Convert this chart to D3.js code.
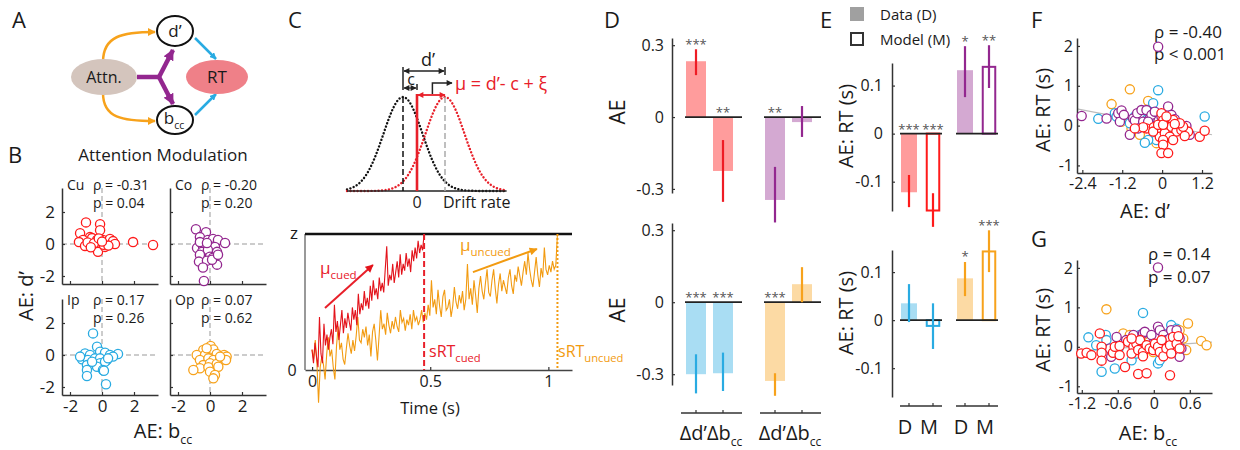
<!DOCTYPE html>
<html><head><meta charset="utf-8">
<script src="https://cdn.jsdelivr.net/npm/d3@7"></script>
<style>
body{margin:0;background:#fff;}
svg text{font-family:"Open Sans",sans-serif;fill:#1a1a1a;}
</style></head><body>
<svg id="fig" width="1240" height="450"></svg>
<script>
// ================= DATA =================
// Panel B : AE: b_cc (x) vs AE: d' (y)
const bCu = [[-1.0,1.35],[-0.12,1.23],[-1.37,0.67],[-0.12,0.86],[-0.75,0.43],[-1.19,0.25],[-1.44,0.12],[-1.06,-0.12],[-0.62,0.37],[-0.31,0.25],[-0.12,0.06],[-0.44,-0.12],[-0.25,-0.49],[0.06,0.25],[0.31,0.06],[0.5,0.31],[0.69,0.18],[0.81,0.0],[0.19,-0.18],[1.94,0.12],[3.19,-0.06],[-0.9,0.1],[-0.5,0.05],[0.1,-0.05],[-0.2,0.35],[0.4,-0.1],[-0.7,-0.2],[0.0,0.15]];
const bCo = [[-0.88,0.92],[-0.25,0.74],[-0.63,0.43],[-0.13,0.25],[0.19,0.31],[0.5,0.25],[0.94,0.06],[-0.81,-0.25],[-0.44,-0.12],[0,-0.12],[0.31,-0.18],[-0.5,-0.49],[-0.13,-0.37],[0.44,-0.49],[-0.63,-0.67],[0,-0.8],[0.19,-0.86],[-0.69,-1.1],[-0.19,-1.04],[0.44,-1.29],[-0.44,-1.47],[0.13,-0.98],[-0.38,-2.31],[0.5,-0.67],[-0.63,0.12],[-0.19,0.06]];
const bIp = [[-0.56,1.35],[-0.31,0.52],[-1.06,0.1],[-0.75,0.0],[-0.12,0.21],[0.19,0.14],[0.5,0.0],[1.0,0.06],[-1.25,-0.27],[-0.88,-0.31],[-0.44,-0.21],[-0.12,-0.21],[0.31,-0.31],[0.69,-0.1],[-0.94,-0.63],[-0.56,-0.56],[-0.12,-0.52],[0.19,-0.42],[0.38,-0.21],[-0.31,-0.73],[0.06,-0.94],[-0.94,-0.94],[-0.94,-1.31],[0.12,-0.98],[0.25,-1.83],[-1.37,-0.1],[-0.62,-0.42]];
const bOp = [[0.04,0.56],[-0.42,0.31],[0.21,0.35],[-0.83,0.0],[-0.31,0.0],[0.42,0.06],[0.88,0.0],[1.04,-0.1],[-0.63,-0.31],[-0.1,-0.21],[0.21,-0.31],[0.63,-0.35],[1.0,-0.31],[-0.42,-0.63],[0.0,-0.52],[0.42,-0.56],[-0.63,-0.83],[-0.1,-0.77],[0.52,-0.73],[-1.04,-0.94],[0.0,-1.04],[0.31,-1.25],[0.21,-1.46],[-0.21,0.42],[0.63,-0.1]];
const bNames = ["Cu","Co","Ip","Op"];
const bRho = ["-0.31","-0.20","0.17","0.07"];
const bP = ["0.04","0.20","0.26","0.62"];
const bTicks = [-2,0,2];

// Panel C : drift-diffusion schematic
const dPrime = 1.5, crit = 0.5, noiseSD = 0.7;
const cuedTrace = [0.15,0.05,0.20,0.10,0.02,0.39,0.12,0.05,0.34,0.18,
  0.26,0.15,0.24,0.30,0.19,0.48,0.28,0.36,0.22,0.33,
  0.44,0.27,0.38,0.31,0.42,0.35,0.29,0.46,0.37,0.44,
  0.33,0.56,0.41,0.49,0.44,0.58,0.47,0.53,0.45,0.62,
  0.51,0.66,0.55,0.60,0.52,0.68,0.58,0.64,0.57,0.74,
  0.91,0.62,0.70,0.66,0.78,0.64,0.72,0.80,0.68,0.85,
  0.70,0.78,0.73,0.86,0.76,0.82,0.72,0.88,0.80,0.90,
  0.82,0.95,0.86,0.92,0.88,1.0];
const uncuedTrace = [0.15,0.08,0.22,0.05,-0.24,0.02,0.10,0.04,-0.07,0.12,
  0.24,0.10,0.15,0.02,-0.07,0.18,0.32,0.15,0.20,0.08,
  0.04,0.16,0.27,0.18,0.12,0.22,0.14,0.25,0.39,0.22,
  0.20,0.30,0.24,0.32,0.18,0.26,0.10,0.28,0.34,0.22,
  0.07,0.25,0.44,0.30,0.34,0.26,0.42,0.33,0.27,0.36,
  0.30,0.39,0.32,0.28,0.44,0.35,0.38,0.29,0.37,0.33,
  0.41,0.30,0.44,0.36,0.39,0.33,0.37,0.44,0.35,0.42,
  0.37,0.48,0.40,0.66,0.46,0.52,0.41,0.59,0.47,0.39,
  0.54,0.59,0.44,0.46,0.52,0.39,0.47,0.61,0.50,0.45,
  0.55,0.49,0.58,0.44,0.52,0.78,0.52,0.60,0.48,0.66,
  0.55,0.42,0.60,0.69,0.58,0.52,0.64,0.74,0.57,0.54,
  0.66,0.74,0.60,0.49,0.63,0.71,0.58,0.66,0.61,0.56,
  0.68,0.74,0.62,0.56,0.70,0.65,0.76,0.69,0.62,0.72,
  0.80,0.70,0.86,0.74,0.66,0.61,0.72,0.83,0.70,0.61,
  0.75,0.68,0.90,0.74,0.70,0.77,0.72,0.80,0.74,0.77,
  1.0];
const dtCued = 0.475/75, dtUncued = 1.04/150;
const sRTcued = 0.475, sRTuncued = 1.04;
const timeTicks = [0,0.5,1];

// Panel D : AE of d' and b_cc
const dCats = ["d","b"];
const dCuMean=[0.233,-0.225], dCuLo=[0.175,-0.354], dCuHi=[0.283,-0.096], dCuStar=["***","**"];
const dCoMean=[-0.346,-0.021], dCoLo=[-0.44,-0.083], dCoHi=[-0.208,0.046], dCoStar=["**",""];
const dIpMean=[-0.30,-0.296], dIpLo=[-0.38,-0.37], dIpHi=[-0.217,-0.21], dIpStar=["***","***"];
const dOpMean=[-0.328,0.075], dOpLo=[-0.39,0.0], dOpHi=[-0.296,0.146], dOpStar=["***",""];
const dTicks = [-0.3,0,0.3];

// Panel E : AE on RT, data vs model
const eCats = ["D","M"];
const eCuMean=[-0.122,-0.16], eCuLo=[-0.153,-0.194], eCuHi=[-0.086,-0.124], eCuStar=["***","***"];
const eCoMean=[0.132,0.139], eCoLo=[0.076,0.095], eCoHi=[0.182,0.184], eCoStar=["*","**"];
const eIpMean=[0.035,-0.012], eIpLo=[-0.004,-0.06], eIpHi=[0.075,0.035], eIpStar=["",""];
const eOpMean=[0.087,0.143], eOpLo=[0.05,0.1], eOpHi=[0.121,0.187], eOpStar=["*","***"];
const eTicks = [-0.1,0,0.1];

// Panel F : AE d' vs AE RT
const fRed = [[-0.47,-0.07],[-0.25,-0.04],[-0.17,-0.15],[-0.02,0.31],[0.03,0.13],[0.13,-0.03],[0.18,-0.15],[-0.07,-0.28],[-0.27,-0.15],[-0.12,0.02],[0.33,0.14],[0.28,-0.03],[0.08,-0.19],[0.43,-0.15],[0.23,-0.28],[0.03,-0.36],[0.03,-0.48],[-0.02,-0.69],[0.18,-0.69],[0.33,-0.36],[0.58,-0.11],[0.78,-0.15],[0.63,-0.03],[0.53,0.06],[0.68,-0.26],[1.13,-0.28],[1.28,-0.13],[0.03,0.02],[0.13,0.23],[0.38,0.04],[-0.57,-0.04],[-0.82,-0.07]];
const fPurple = [[-2.42,0.24],[-1.67,0.18],[-1.32,0.31],[-1.22,0.38],[-1.27,0.10],[-1.15,0.27],[-0.87,0.18],[-0.82,0.13],[-0.75,0.31],[-0.62,0.39],[-0.57,0.10],[-0.47,0.39],[-0.37,0.18],[-0.32,0.27],[-0.22,0.35],[0.18,0.48],[0.23,0.08],[0.28,0.27],[0.38,0.16],[-0.12,1.98],[-0.97,-0.23],[0.83,-0.23],[0.73,-0.01],[-0.72,-0.07],[-0.42,0.10],[-0.02,0.23]];
const fBlue = [[-1.92,0.17],[-1.42,0.31],[-1.37,0.23],[-0.82,0.23],[-0.67,0.27],[-0.47,0.14],[-0.27,0.56],[-0.12,0.89],[-0.17,-0.36],[-0.42,-0.36],[-0.52,-0.43],[0.13,0.18],[0.33,-0.11],[0.38,-0.03],[1.28,0.23],[-0.97,0.06],[-0.12,-0.11],[0.23,0.14]];
const fOrange = [[-0.97,0.91],[-1.52,0.54],[-0.42,0.62],[-1.22,0.10],[-0.67,-0.23],[-0.17,-0.44],[0.13,-0.32],[-0.92,-0.07]];
const fFit = {slope:-0.16, intercept:0.01};
const fXTicks = [-2.4,-1.2,0,1.2], fyTicks = [-1,0,1,2];

// Panel G : AE b_cc vs AE RT
const gRed = [[-1.21,-0.17],[-1.12,-0.15],[-1.04,-0.21],[-0.9,0.34],[-0.87,0.0],[-0.87,-0.15],[-0.87,-0.35],[-0.68,-0.15],[-0.65,0.0],[-0.48,-0.51],[-0.57,0.02],[-0.43,0.13],[-0.34,0.0],[-0.37,-0.17],[-0.29,0.08],[-0.23,0.17],[-0.26,-0.08],[-0.18,-0.13],[-0.12,0.04],[-0.07,-0.04],[-0.26,-0.69],[-0.12,-0.67],[-0.01,-0.08],[0.02,0.08],[0.07,0.0],[0.1,-0.13],[0.13,0.17],[0.16,-0.24],[0.21,-0.04],[0.27,0.04],[0.32,0.25],[0.29,-0.17],[0.38,0.08],[0.41,0.27],[0.43,-0.04],[0.27,-0.72],[-0.37,0.21],[-0.18,-0.24],[-0.57,-0.21]];
const gBlue = [[-1.09,0.24],[-0.96,0.04],[-0.8,0.3],[-0.79,0.17],[-0.87,-0.63],[-0.65,-0.55],[-0.4,0.25],[-0.37,-0.34],[-0.29,-0.17],[-0.18,0.86],[-0.12,0.17],[0.04,0.25],[0.07,-0.42],[0.1,-0.34],[0.24,0.34],[0.29,0.55],[0.38,0.46],[0.24,0.04],[-0.59,-0.04],[-0.23,0.3]];
const gPurple = [[-0.73,-0.04],[-0.71,-0.25],[-0.46,0.17],[-0.34,0.3],[-0.18,0.34],[-0.15,0.38],[-0.04,0.3],[-0.01,0.08],[0.07,0.51],[0.1,0.42],[0.16,0.3],[0.21,0.17],[0.27,0.21],[0.29,0.42],[0.38,0.42],[0.43,-0.25],[0.46,-0.04],[0.43,0.21],[0.07,2.01],[-0.62,0.25]];
const gOrange = [[-0.79,0.95],[-0.51,0.34],[-0.4,0.3],[-0.18,0.3],[-0.12,0.04],[-0.01,-0.13],[0.16,-0.17],[0.43,0.42],[0.57,0.59],[0.54,-0.08],[0.79,0.15],[0.88,0.04],[0.21,0.04],[0.49,0.21]];
const gFit = {slope:0.10, intercept:0.023};
const gXTicks = [-1.2,-0.6,0,0.6], gyTicks = [-1,0,1,2];

// ================= STYLE =================
const RED="#ff1a1a", PURPLE="#93278f", BLUE="#29abe2", ORANGE="#f7a21b";
const RED_L="#ff9c9c", PURPLE_L="#d4a9d2", BLUE_L="#a9ddf3", ORANGE_L="#fcdaa4";
const TR_RED="#e3131b", TR_OR="#f29b11";
const AX="#333";

const svg = d3.select("#fig");
svg.append("rect").attr("width",1240).attr("height",450).attr("fill","#fff");
const defs = svg.append("defs");
function mk(id,color,w,h){
  defs.append("marker").attr("id",id).attr("viewBox","0 0 10 10").attr("refX",9).attr("refY",5)
    .attr("markerUnits","userSpaceOnUse").attr("markerWidth",w).attr("markerHeight",h)
    .attr("orient","auto-start-reverse")
    .append("path").attr("d","M0,0L10,5L0,10z").attr("fill",color);
}
mk("aOr",ORANGE,8,8); mk("aPu",PURPLE,11,11); mk("aBl",BLUE,7,7);
mk("aBk","#222",7,6); mk("aRd","#e8202a",7,6); mk("aRdL",TR_RED,9,8); mk("aOrL",TR_OR,9,8);

function T(x,y,s,size,o={}){
  const t=svg.append("text").attr("x",x).attr("y",y).attr("font-size",size).text(s);
  if(o.anchor)t.attr("text-anchor",o.anchor);
  if(o.fill)t.style("fill",o.fill);
  if(o.rot)t.attr("transform",`rotate(-90 ${x} ${y})`);
  return t;
}
function TS(x,y,main,sub,size,o={}){
  const t=svg.append("text").attr("x",x).attr("y",y).attr("font-size",size);
  t.append("tspan").text(main);
  t.append("tspan").attr("font-size",size*(o.sub||0.62)).attr("dy",size*0.3).text(sub);
  if(o.anchor)t.attr("text-anchor",o.anchor);
  if(o.fill)t.style("fill",o.fill);
  if(o.rot)t.attr("transform",`rotate(-90 ${x} ${y})`);
  return t;
}
const fmt = d => d===0 ? "0" : String(d);
function styleAxis(g,size){
  g.attr("font-family",null).attr("font-size",size);
  g.select(".domain").attr("stroke",AX).attr("stroke-width",1.5);
  g.selectAll(".tick line").attr("stroke",AX).attr("stroke-width",1.2);
  g.selectAll(".tick text").style("fill","#1a1a1a");
}
function yAxis(x,ys,ticks,labels,pad,size){
  const ax=d3.axisLeft(ys).tickValues(ticks).tickSizeInner(-3).tickSizeOuter(0).tickPadding(pad)
    .tickFormat(labels?fmt:()=>"");
  const g=svg.append("g").attr("transform",`translate(${x},0)`).call(ax);
  styleAxis(g,size); return g;
}
function xAxis(y,xs,ticks,labels,pad,size){
  const ax=d3.axisBottom(xs).tickValues(ticks).tickSizeInner(-3).tickSizeOuter(0).tickPadding(pad)
    .tickFormat(labels?fmt:()=>"");
  const g=svg.append("g").attr("transform",`translate(0,${y})`).call(ax);
  styleAxis(g,size); return g;
}
function scatter(pts,xs,ys,color){
  svg.append("g").selectAll("circle").data(pts).join("circle")
    .attr("cx",d=>xs(d[0])).attr("cy",d=>ys(d[1])).attr("r",4.6)
    .attr("fill","#fff").attr("stroke",color).attr("stroke-width",1.3);
}

// panel letters
[["A",12,28],["B",8,163],["C",288,28],["D",604,28],["E",820,28],["F",1031,28],["G",1031,247]]
  .forEach(([s,x,y])=>T(x,y,s,22));

// ================= PANEL A =================
(function(){
  const path=(d,c,w,m)=>svg.append("path").attr("d",d).attr("fill","none").attr("stroke",c).attr("stroke-width",w).attr("marker-end",m?`url(#${m})`:null);
  path("M103,62 C103,36 122,32 155,32",ORANGE,2.5,"aOr");
  path("M103,93 C103,118 122,121 155,121",ORANGE,2.5,"aOr");
  path("M195,38 L216,59",BLUE,2.5,"aBl");
  path("M195,115 L216,94",BLUE,2.5,"aBl");
  path("M137,77 L160,77",PURPLE,4.5,null);
  path("M159,77 L173,50",PURPLE,4.5,"aPu");
  path("M159,77 L173,104",PURPLE,4.5,"aPu");
  svg.append("ellipse").attr("cx",104).attr("cy",77).attr("rx",33).attr("ry",18).attr("fill","#d4c5bd");
  svg.append("ellipse").attr("cx",217).attr("cy",77).attr("rx",31).attr("ry",17).attr("fill","#ef8088");
  svg.append("ellipse").attr("cx",175).attr("cy",31).attr("rx",18).attr("ry",15).attr("fill","#fff").attr("stroke","#111").attr("stroke-width",2);
  svg.append("ellipse").attr("cx",175).attr("cy",120).attr("rx",18).attr("ry",14).attr("fill","#fff").attr("stroke","#111").attr("stroke-width",2);
  T(104,83,"Attn.",16,{anchor:"middle"});
  T(217,83,"RT",17,{anchor:"middle"});
  T(175,37,"d’",17,{anchor:"middle"});
  TS(174,124,"b","cc",17,{anchor:"middle"});
})();

// ================= PANEL B =================
(function(){
  T(163,161,"Attention Modulation",17,{anchor:"middle"});
  const panels=[[bCu,RED,62,188],[bCo,PURPLE,170,188],[bIp,BLUE,62,299],[bOp,ORANGE,170,299]];
  panels.forEach(([pts,col,x0,y0],i)=>{
    const xs=d3.scaleLinear([-2.5,3.5],[x0,x0+96]);
    const ys=d3.scaleLinear([-2.5,3.5],[y0+96,y0]);
    svg.append("line").attr("x1",xs(0)).attr("x2",xs(0)).attr("y1",y0).attr("y2",y0+96)
      .attr("stroke","#999").attr("stroke-dasharray","5,3");
    svg.append("line").attr("x1",x0).attr("x2",x0+96).attr("y1",ys(0)).attr("y2",ys(0))
      .attr("stroke","#999").attr("stroke-dasharray","5,3");
    yAxis(x0,ys,bTicks,i%2===0,7,17);
    xAxis(y0+96,xs,bTicks,i>=2,5,17);
    scatter(pts,xs,ys,col);
    const ty = i<2 ? 190 : 305;
    T(x0+5,ty,bNames[i],14);
    T(x0+31,ty,"ρ = "+bRho[i],14);
    T(x0+31,ty+18,"p = "+bP[i],14);
  });
  T(33,296,"AE: d’",20,{anchor:"middle",rot:true});
  TS(163,438,"AE: b","cc",20,{anchor:"middle"});
})();

// ================= PANEL C (top) =================
(function(){
  const xs=d3.scaleLinear([-2.5,3.2],[347,506.6]);
  const pdf=(x,m)=>Math.exp(-0.5*((x-m)/noiseSD)**2);
  const ys=d3.scaleLinear([0,1],[191,97]);
  const grid=d3.range(-2.5,3.2001,0.05);
  const line=m=>d3.line().x(d=>xs(d)).y(d=>ys(pdf(d,m)))(grid);
  const noiseM=-crit, sigM=dPrime-crit;
  svg.append("path").attr("d",line(noiseM)).attr("fill","none").attr("stroke","#111").attr("stroke-width",2.4)
    .attr("stroke-dasharray","0.1,3.4").attr("stroke-linecap","round");
  svg.append("path").attr("d",line(sigM)).attr("fill","none").attr("stroke","#e8202a").attr("stroke-width",2.4)
    .attr("stroke-dasharray","0.1,3.4").attr("stroke-linecap","round");
  svg.append("line").attr("x1",xs(-2.5)).attr("x2",xs(3.2)).attr("y1",191).attr("y2",191).attr("stroke","#222").attr("stroke-width",1.6);
  svg.append("line").attr("x1",xs(noiseM)).attr("x2",xs(noiseM)).attr("y1",ys(1)).attr("y2",191).attr("stroke","#111").attr("stroke-width",1.5).attr("stroke-dasharray","6,3");
  svg.append("line").attr("x1",xs(sigM)).attr("x2",xs(sigM)).attr("y1",ys(1)).attr("y2",191).attr("stroke","#aaa").attr("stroke-width",1.5).attr("stroke-dasharray","6,3");
  svg.append("line").attr("x1",xs(0)).attr("x2",xs(0)).attr("y1",94).attr("y2",191).attr("stroke","#e8202a").attr("stroke-width",2.6);
  svg.append("line").attr("x1",xs(0)+1).attr("x2",xs(sigM)).attr("y1",95).attr("y2",95).attr("stroke","#e8202a").attr("stroke-width",1.8)
    .attr("marker-start","url(#aRd)").attr("marker-end","url(#aRd)");
  svg.append("line").attr("x1",xs(noiseM)).attr("x2",xs(noiseM)).attr("y1",67).attr("y2",90).attr("stroke","#222").attr("stroke-width",1.5);
  svg.append("line").attr("x1",xs(sigM)).attr("x2",xs(sigM)).attr("y1",67).attr("y2",75).attr("stroke","#222").attr("stroke-width",1.5);
  svg.append("line").attr("x1",xs(noiseM)+1).attr("x2",xs(sigM)-1).attr("y1",71).attr("y2",71).attr("stroke","#222").attr("stroke-width",1.5)
    .attr("marker-start","url(#aBk)").attr("marker-end","url(#aBk)");
  T((xs(noiseM)+xs(sigM))/2+4,66,"d’",18,{anchor:"middle"});
  svg.append("line").attr("x1",xs(0)).attr("x2",xs(0)).attr("y1",84).attr("y2",90).attr("stroke","#222").attr("stroke-width",1.5);
  svg.append("line").attr("x1",xs(noiseM)+1).attr("x2",xs(0)-1).attr("y1",88).attr("y2",88).attr("stroke","#222").attr("stroke-width",1.2)
    .attr("marker-start","url(#aBk)").attr("marker-end","url(#aBk)");
  T(xs(noiseM/2)+1,85,"c",16,{anchor:"middle"});
  svg.append("path").attr("d",`M${xs(0.55)},94 L${xs(0.55)},83 L${xs(1.25)},83`).attr("fill","none").attr("stroke","#222").attr("stroke-width",1.5).attr("marker-end","url(#aBk)");
  T(455,90,"μ = d’- c + ξ",18,{fill:"#e8202a"});
  T(xs(0),208,"0",16,{anchor:"middle"});
  T(443,208,"Drift rate",16);
})();

// ================= PANEL C (bottom) =================
(function(){
  const xs=d3.scaleLinear([0,1],[312,548]);
  const ys=d3.scaleLinear([0,1],[370,234]);
  svg.append("line").attr("x1",305).attr("x2",305).attr("y1",ys(1)).attr("y2",ys(0)).attr("stroke","#777").attr("stroke-width",1.5);
  const g=xAxis(370,d3.scaleLinear([-0.03,1.1],[305,572]),timeTicks,true,6,16);
  g.select(".domain").attr("stroke","#444");
  const ln=dt=>d3.line().x((d,i)=>xs(i*dt)).y(d=>ys(d));
  svg.append("path").attr("d",ln(dtUncued)(uncuedTrace)).attr("fill","none").attr("stroke",TR_OR).attr("stroke-width",1.1);
  svg.append("path").attr("d",ln(dtCued)(cuedTrace)).attr("fill","none").attr("stroke",TR_RED).attr("stroke-width",1.1);
  svg.append("line").attr("x1",305).attr("x2",572).attr("y1",ys(1)).attr("y2",ys(1)).attr("stroke","#111").attr("stroke-width",2.5);
  svg.append("line").attr("x1",xs(sRTcued)).attr("x2",xs(sRTcued)).attr("y1",ys(1)).attr("y2",ys(0)).attr("stroke","#e8202a").attr("stroke-width",2).attr("stroke-dasharray","6,3");
  svg.append("line").attr("x1",xs(sRTuncued)).attr("x2",xs(sRTuncued)).attr("y1",ys(1)).attr("y2",ys(0)).attr("stroke",TR_OR).attr("stroke-width",2).attr("stroke-dasharray","2,2");
  svg.append("line").attr("x1",xs(0.055)).attr("y1",ys(0.456)).attr("x2",xs(0.258)).attr("y2",ys(0.772)).attr("stroke","#e8202a").attr("stroke-width",2).attr("marker-end","url(#aRdL)");
  svg.append("line").attr("x1",xs(0.682)).attr("y1",ys(0.72)).attr("x2",xs(0.953)).attr("y2",ys(0.89)).attr("stroke",TR_OR).attr("stroke-width",2).attr("marker-end","url(#aOrL)");
  TS(320,274,"μ","cued",17,{fill:"#e8202a",sub:0.68});
  TS(460,251,"μ","uncued",17,{fill:TR_OR,sub:0.68});
  TS(429,357,"sRT","cued",16,{fill:"#e8202a",sub:0.7});
  TS(558,357,"sRT","uncued",16,{fill:TR_OR,sub:0.7});
  T(294,239,"z",17,{anchor:"middle"});
  T(292,376,"0",16,{anchor:"middle"});
  T(430,414,"Time (s)",16.5,{anchor:"middle"});
})();

// ================= BAR helper =================
function bars(ys,groups,outer,inner,cats,opt){
  groups.forEach(gr=>{
    const x0=outer(gr.slot);
    gr.mean.forEach((m,i)=>{
      const cx=x0+inner(cats[i]);
      const open=opt.open && opt.open[i];
      const y1=ys(Math.max(m,0)), y2=ys(Math.min(m,0));
      if(open){
        svg.append("rect").attr("x",cx-opt.openW/2).attr("width",opt.openW).attr("y",y1).attr("height",y2-y1)
          .attr("fill","none").attr("stroke",gr.color).attr("stroke-width",2);
      } else {
        svg.append("rect").attr("x",cx-opt.barW/2).attr("width",opt.barW).attr("y",y1).attr("height",y2-y1)
          .attr("fill",gr.light);
      }
    });
    svg.append("line").attr("x1",x0+opt.zero[0]).attr("x2",x0+opt.zero[1]).attr("y1",ys(0)).attr("y2",ys(0))
      .attr("stroke","#222").attr("stroke-width",1.8);
    gr.mean.forEach((m,i)=>{
      const cx=x0+inner(cats[i]);
      svg.append("line").attr("x1",cx).attr("x2",cx).attr("y1",ys(gr.lo[i])).attr("y2",ys(gr.hi[i]))
        .attr("stroke",gr.color).attr("stroke-width",2.2);
      if(gr.star[i]){
        const yc = m>0 ? ys(gr.hi[i])-8 : ys(0)-7.5;
        T(cx,yc+7.4,gr.star[i],13,{anchor:"middle",fill:"#555"});
      }
    });
  });
}

// ================= PANEL D =================
(function(){
  const outer=d3.scaleBand(["left","right"],[670,828]);
  const inner=d3.scalePoint(dCats,[26,53]);
  const yTop=d3.scaleLinear([-0.317,0.33],[193,38]);
  const yBot=d3.scaleLinear([-0.345,0.33],[385,223]);
  yAxis(672,yTop,dTicks,true,8,16);
  yAxis(672,yBot,dTicks,true,8,16);
  const opt={barW:20,zero:[15,72]};
  bars(yTop,[{slot:"left",mean:dCuMean,lo:dCuLo,hi:dCuHi,star:dCuStar,color:"#ee1c25",light:RED_L},
             {slot:"right",mean:dCoMean,lo:dCoLo,hi:dCoHi,star:dCoStar,color:PURPLE,light:PURPLE_L}],outer,inner,dCats,opt);
  bars(yBot,[{slot:"left",mean:dIpMean,lo:dIpLo,hi:dIpHi,star:dIpStar,color:BLUE,light:BLUE_L},
             {slot:"right",mean:dOpMean,lo:dOpLo,hi:dOpHi,star:dOpStar,color:ORANGE,light:ORANGE_L}],outer,inner,dCats,opt);
  ["left","right"].forEach(s=>{
    const x0=outer(s);
    svg.append("line").attr("x1",x0+11).attr("x2",x0+72).attr("y1",413).attr("y2",413).attr("stroke",AX).attr("stroke-width",1.5);
    dCats.forEach(c=>svg.append("line").attr("x1",x0+inner(c)).attr("x2",x0+inner(c)).attr("y1",413).attr("y2",410).attr("stroke",AX).attr("stroke-width",1.2));
    TS(x0+41,440,"Δd’Δb","cc",20,{anchor:"middle",sub:0.6});
  });
  T(625,112,"AE",21,{anchor:"middle",rot:true});
  T(625,310,"AE",21,{anchor:"middle",rot:true});
})();

// ================= PANEL E =================
(function(){
  const outer=d3.scaleBand(["left","right"],[897,1009]);
  const inner=d3.scalePoint(eCats,[12,36]);
  const yTop=d3.scaleLinear([-0.161,0.147],[211,63]);
  const yBot=d3.scaleLinear([-0.16,0.146],[397,250]);
  yAxis(892,yTop,eTicks,true,9,16);
  yAxis(892,yBot,eTicks,true,9,16);
  const opt={barW:16,openW:12.5,open:[false,true],zero:[3,45]};
  bars(yTop,[{slot:"left",mean:eCuMean,lo:eCuLo,hi:eCuHi,star:eCuStar,color:RED,light:RED_L},
             {slot:"right",mean:eCoMean,lo:eCoLo,hi:eCoHi,star:eCoStar,color:PURPLE,light:PURPLE_L}],outer,inner,eCats,opt);
  bars(yBot,[{slot:"left",mean:eIpMean,lo:eIpLo,hi:eIpHi,star:eIpStar,color:BLUE,light:BLUE_L},
             {slot:"right",mean:eOpMean,lo:eOpLo,hi:eOpHi,star:eOpStar,color:ORANGE,light:ORANGE_L}],outer,inner,eCats,opt);
  ["left","right"].forEach(s=>{
    const x0=outer(s);
    svg.append("line").attr("x1",x0+3).attr("x2",x0+45).attr("y1",406).attr("y2",406).attr("stroke",AX).attr("stroke-width",1.5);
    eCats.forEach(c=>{
      svg.append("line").attr("x1",x0+inner(c)).attr("x2",x0+inner(c)).attr("y1",406).attr("y2",403).attr("stroke",AX).attr("stroke-width",1.2);
      T(x0+inner(c)-4,434,c,20,{anchor:"middle"});
    });
  });
  svg.append("rect").attr("x",850).attr("y",7).attr("width",14).attr("height",14).attr("fill","#a0a0a0");
  svg.append("rect").attr("x",851).attr("y",33).attr("width",12).attr("height",12).attr("fill","none").attr("stroke","#333").attr("stroke-width",2);
  T(880,20,"Data (D)",15);
  T(880,45,"Model (M)",15);
  T(853,126,"AE: RT (s)",20,{anchor:"middle",rot:true});
  T(853,313,"AE: RT (s)",20,{anchor:"middle",rot:true});
})();

// ================= PANEL F =================
(function(){
  const xs=d3.scaleLinear([-2.56,1.5],[1077,1212]);
  const ys=d3.scaleLinear([-1.19,2.2],[173,38]);
  const xd=xs.domain();
  svg.append("line").attr("x1",xs(xd[0])).attr("x2",xs(xd[1]))
    .attr("y1",ys(fFit.intercept+fFit.slope*xd[0])).attr("y2",ys(fFit.intercept+fFit.slope*xd[1]))
    .attr("stroke","#bbb").attr("stroke-width",1.2);
  yAxis(1077,ys,fyTicks,true,4,16);
  xAxis(173,xs,fXTicks,true,5,16);
  T(1154,38,"ρ = -0.40",17);
  T(1154,60,"p < 0.001",17);
  scatter(fOrange,xs,ys,ORANGE);
  scatter(fBlue,xs,ys,BLUE);
  scatter(fPurple,xs,ys,PURPLE);
  scatter(fRed,xs,ys,RED);
  T(1050,110,"AE: RT (s)",20,{anchor:"middle",rot:true});
  T(1145,218,"AE: d’",20,{anchor:"middle"});
})();

// ================= PANEL G =================
(function(){
  const xs=d3.scaleLinear([-1.28,0.97],[1077,1212]);
  const ys=d3.scaleLinear([-1.17,2.2],[393,260]);
  const xd=xs.domain();
  svg.append("line").attr("x1",xs(xd[0])).attr("x2",xs(xd[1]))
    .attr("y1",ys(gFit.intercept+gFit.slope*xd[0])).attr("y2",ys(gFit.intercept+gFit.slope*xd[1]))
    .attr("stroke","#bbb").attr("stroke-width",1.2);
  yAxis(1077,ys,gyTicks,true,4,16);
  xAxis(393,xs,gXTicks,true,5,16);
  T(1148,260,"ρ = 0.14",17);
  T(1148,283,"p = 0.07",17);
  scatter(gBlue,xs,ys,BLUE);
  scatter(gOrange,xs,ys,ORANGE);
  scatter(gPurple,xs,ys,PURPLE);
  scatter(gRed,xs,ys,RED);
  T(1050,330,"AE: RT (s)",20,{anchor:"middle",rot:true});
  TS(1148,440,"AE: b","cc",20,{anchor:"middle"});
})();
</script></body></html>
